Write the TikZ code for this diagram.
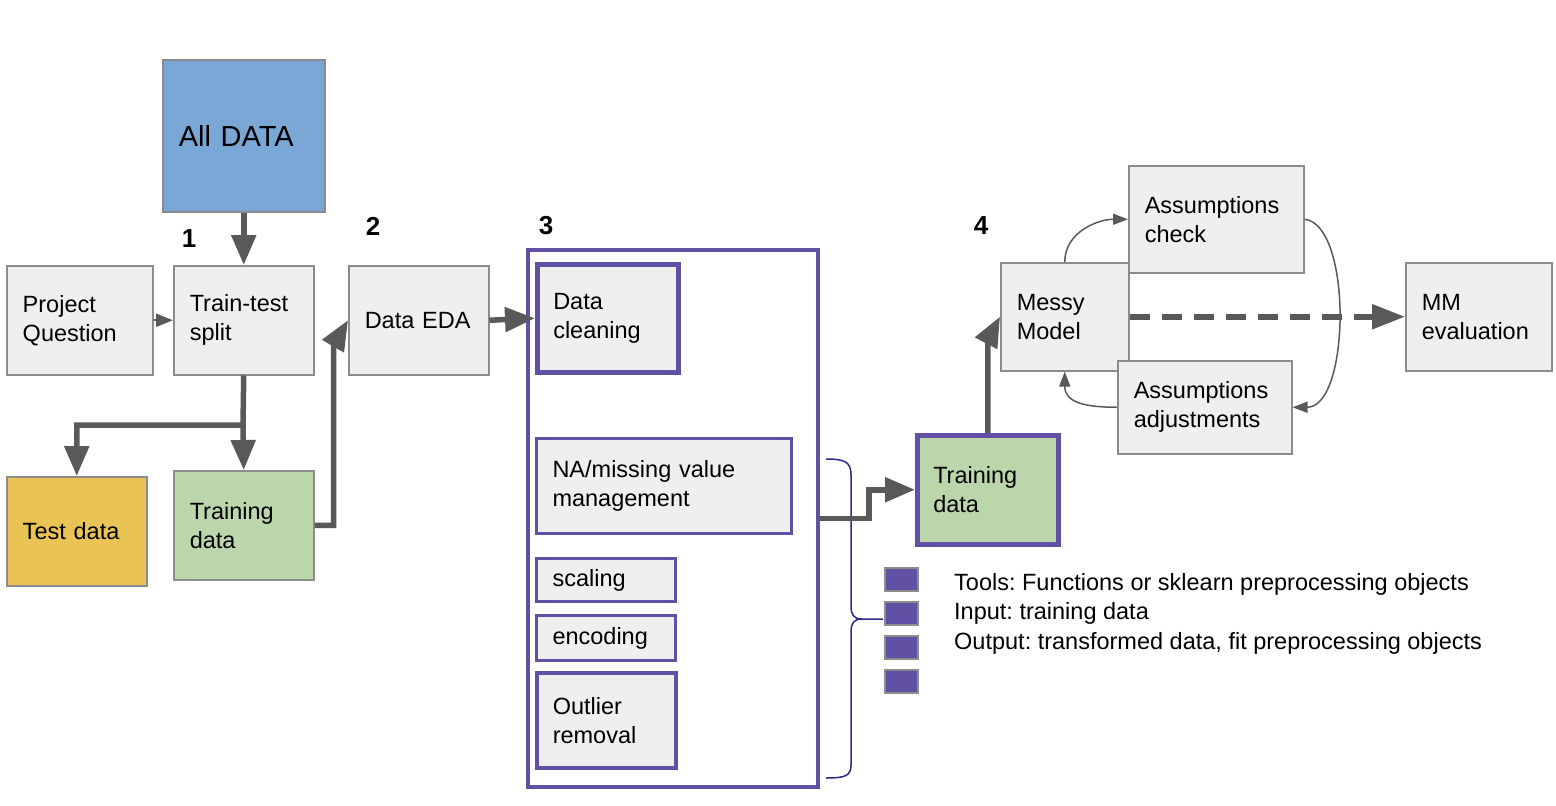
\documentclass[tikz,border=0pt]{standalone}
\usepackage{fontspec}
\setmainfont{Liberation Sans}
\usetikzlibrary{arrows.meta,calc}
\definecolor{linegray}{HTML}{595959}
\definecolor{bordergray}{HTML}{8C8C8C}
\definecolor{boxgray}{HTML}{EFEFEF}
\definecolor{dblue}{HTML}{7BA7D7}
\definecolor{dyellow}{HTML}{E9C353}
\definecolor{dgreen}{HTML}{BCD6AC}
\definecolor{purp}{HTML}{6150A4}
\definecolor{bracec}{HTML}{2B2A85}
\frenchspacing
\tikzset{
 gbox/.style={draw=bordergray, line width=1.5pt, fill=boxgray, inner xsep=16pt, inner ysep=0pt, align=left, anchor=north west, font=\fontsize{23.5}{29}\selectfont},
 pbox/.style={gbox, draw=purp},
 fatarrow/.style={draw=linegray, line width=5.5pt, -{Triangle[length=30pt,width=24pt]}},
 thinarrow/.style={draw=linegray, line width=1.5pt, -{Triangle[length=15pt,width=11pt]}},
 steplabel/.style={font=\fontsize{26}{30}\selectfont\bfseries},
 legendsq/.style={draw=bordergray, line width=1.5pt, fill=purp, minimum width=33pt, minimum height=23pt, inner sep=0pt, anchor=north west},
}
\begin{document}
\begin{tikzpicture}[x=1pt,y=-1pt]
\useasboundingbox (0,0) rectangle (1556,806);
% left part
\node[gbox, fill=dblue, text width=130pt, minimum height=152pt, font=\fontsize{29}{34}\selectfont] (alldata) at (162,59) {All DATA};
\node[gbox, text width=114pt, minimum height=109pt] (pq) at (6,265) {Project\\Question};
\node[gbox, text width=108pt, minimum height=109pt] (tts) at (173,265) {Train-test\\split};
\node[gbox, text width=108pt, minimum height=109pt] (eda) at (348,265) {Data EDA};
\node[gbox, fill=dyellow, text width=108pt, minimum height=109pt] (test) at (6,476) {Test data};
\node[gbox, fill=dgreen, text width=108pt, minimum height=109pt] (train1) at (173,470) {Training\\data};
% step labels
\node[steplabel] (n1) at (189,239) {1};
\node[steplabel] (n2) at (373,226) {2};
\node[steplabel] (n3) at (546,226) {3};
\node[steplabel] (n4) at (981,226) {4};
% big box
\node[draw=purp, line width=4pt, minimum width=290pt, minimum height=537pt, inner sep=0pt, anchor=north west] (big) at (526,248) {};
\node[pbox, line width=4.5pt, text width=109pt, minimum height=108pt] (clean) at (535,262) {Data\\cleaning};
\node[pbox, line width=3pt, text width=223pt, minimum height=95pt] (na) at (535,437) {NA/missing value\\management};
\node[pbox, line width=3pt, text width=107pt, minimum height=43pt] (scal) at (535,557) {scaling};
\node[pbox, line width=3pt, text width=107pt, minimum height=45pt] (enc) at (535,614) {encoding};
\node[pbox, line width=3.5pt, text width=107pt, minimum height=95pt] (outl) at (535,671) {Outlier\\removal};
% right part
\node[pbox, fill=dgreen, line width=4.5pt, text width=109pt, minimum height=109pt] (train2) at (915,433) {Training\\data};
\node[gbox, text width=96pt, minimum height=108pt] (messy) at (1000,262) {Messy\\Model};
\node[gbox, text width=143pt, minimum height=107pt] (acheck) at (1128,165) {Assumptions\\check};
\node[gbox, text width=142pt, minimum height=93pt] (aadj) at (1117,360) {Assumptions\\adjustments};
\node[gbox, text width=114pt, minimum height=108pt] (mmeval) at (1405,262) {MM\\evaluation};
% legend
\node[legendsq] (sq1) at (884,567) {};
\node[legendsq] (sq2) at (884,601) {};
\node[legendsq] (sq3) at (884,635) {};
\node[legendsq] (sq4) at (884,669) {};
\node[anchor=north west, inner sep=0pt, align=left, font=\fontsize{23.5}{29.5}\selectfont] (legend) at (954,573) {Tools: Functions or sklearn preprocessing objects\\Input: training data\\Output: transformed data, fit preprocessing objects};
% brace
\draw[bracec, line width=1.5pt] (826,459) .. controls (845,459) and (851,462) .. (851,475) -- (851,606) .. controls (851,615) and (854,619) .. (862,619) -- (883,619)
  (862,619) .. controls (854,619) and (851,623) .. (851,632) -- (851,765) .. controls (851,776) and (845,778) .. (826,778);
% connectors
\coordinate (split) at (243,425);
\draw[fatarrow] (alldata.south) -- (tts.north);
\draw[thinarrow, line width=2pt, -{Triangle[length=17pt,width=13pt]}] (pq.east) -- (tts.west);
\draw[fatarrow] (tts.south) -- (split) -| (test.north);
\draw[fatarrow] (split) -- (train1.north);
\draw[fatarrow] (train1.east) -- ++(19,0) -- ++(0,-180) -- (eda.west);
\draw[fatarrow] (eda.east) -- (clean.west);
\draw[fatarrow] (big.east) -- ++(49,0) |- (train2.west);
\draw[fatarrow] (train2.north) -- ++(0,-93) -- (messy.west);
\draw[fatarrow, dash pattern=on 20pt off 12pt, -{Triangle[length=33pt,width=24pt]}] (messy.east) -- (mmeval.west);
\draw[thinarrow] (messy.north) .. controls +(0,-30) and +(-30,0) .. (acheck.west);
\draw[thinarrow] (acheck.east) .. controls +(48,5) and +(58,0) .. (aadj.east);
\draw[thinarrow] (aadj.west) .. controls +(-35,0) and +(0,30) .. (messy.south);
\end{tikzpicture}
\end{document}
